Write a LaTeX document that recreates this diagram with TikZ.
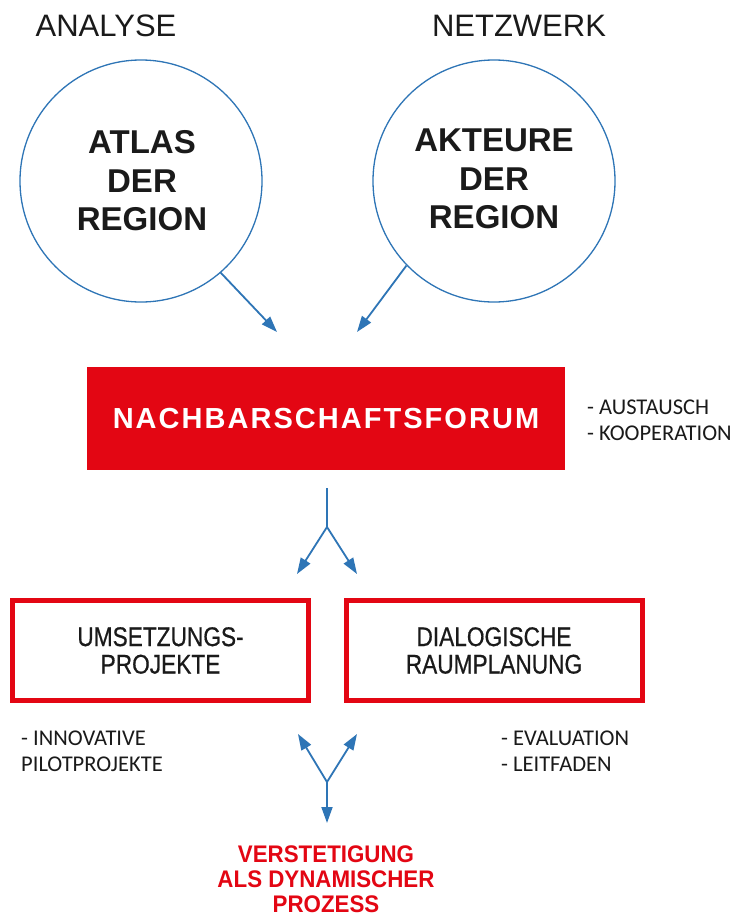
\documentclass[tikz,border=0pt]{standalone}
\usepackage{fontspec}
\setmainfont{Liberation Sans}
\newfontfamily\notefont{Carlito}
\newfontfamily\narrowfont[FakeStretch=0.84,FakeBold=0.6]{Liberation Sans}
\newfontfamily\semifont[FakeStretch=0.93]{Liberation Sans}
\newfontfamily\spacedfont[LetterSpace=7]{Liberation Sans}
\usetikzlibrary{arrows.meta}
\definecolor{flowblue}{HTML}{2E75B6}
\definecolor{forumred}{HTML}{E30613}
\definecolor{inkdark}{HTML}{1A1A1A}
\tikzset{
  heading/.style={inner sep=0pt, anchor=base, text=inkdark, font=\fontsize{31}{36}\selectfont},
  ring/.style={circle, draw=flowblue, line width=1.3pt, minimum size=242pt, inner sep=0pt},
  ringtext/.style={align=center, inner sep=0pt, text=inkdark, font=\bfseries\fontsize{33}{38.5}\selectfont},
  flow/.style={draw=flowblue, line width=1.8pt, -{Triangle[length=16pt,width=11pt]}},
  flowline/.style={draw=flowblue, line width=1.8pt},
  forumbox/.style={fill=forumred, minimum width=478pt, minimum height=103pt, inner sep=0pt,
    text=white, font=\spacedfont\bfseries\fontsize{29}{32}\selectfont},
  stagebox/.style={draw=forumred, line width=5pt, minimum width=296pt, minimum height=100pt,
    align=center, text=inkdark, font=\narrowfont\fontsize{27}{27.5}\selectfont},
  note/.style={align=left, inner sep=0pt, anchor=north west, text=inkdark,
    font=\notefont\fontsize{22.5}{25.5}\selectfont},
  outcome/.style={align=center, inner sep=0pt, text=forumred,
    font=\semifont\bfseries\fontsize{24}{25}\selectfont}
}
\begin{document}
\begin{tikzpicture}[x=1pt, y=-1pt]
\useasboundingbox[fill=white] (0,0) rectangle (736,918);

% column headings
\node[heading] (hAnalyse) at (106,36) {ANALYSE};
\node[heading] (hNetz) at (519,36) {NETZWERK};

% the two source circles
\node[ring] (atlas) at (141,181) {};
\node[ringtext] (atlasText) at (142,181) {ATLAS\\DER\\REGION};
\node[ring] (akteure) at (494,181) {};
\node[ringtext] (akteureText) at (494,179) {AKTEURE\\DER\\REGION};

% central forum
\node[forumbox] (forum) at (326,418.5) {NACHBARSCHAFTSFORUM};
\node[note] (forumNote) at (587,400) {- AUSTAUSCH\\- KOOPERATION};

% arrows from circles into the forum
\coordinate (inL) at (277,332);
\coordinate (inR) at (357,332);
\draw[flow] (atlas.-49) -- (inL);
\draw[flow] (akteure.-136) -- (inR);

% split below the forum
\coordinate (splitTop) at (327,488);
\coordinate (splitMid) at (327,527);
\coordinate (splitL) at (297,574);
\coordinate (splitR) at (357,574);
\draw[flowline] (splitTop) -- (splitMid);
\draw[flow] (splitMid) -- (splitL);
\draw[flow] (splitMid) -- (splitR);

% the two working streams
\node[stagebox] (umsetz) at (160.5,650.5) {UMSETZUNGS-\\PROJEKTE};
\node[stagebox] (dialog) at (494,650.5) {DIALOGISCHE\\RAUMPLANUNG};
\node[note] (umsetzNote) at (21,731) {- INNOVATIVE\\PILOTPROJEKTE};
\node[note] (dialogNote) at (501,731) {- EVALUATION\\- LEITFADEN};

% merge towards the outcome
\coordinate (joinL) at (298,734);
\coordinate (joinR) at (357,734);
\coordinate (joinMid) at (327,782);
\coordinate (joinEnd) at (327,823);
\draw[flow] (joinMid) -- (joinL);
\draw[flow] (joinMid) -- (joinR);
\draw[flow] (joinMid) -- (joinEnd);

% outcome
\node[outcome] (outcome) at (326,879.5) {VERSTETIGUNG\\ALS DYNAMISCHER\\PROZESS};
\end{tikzpicture}
\end{document}
